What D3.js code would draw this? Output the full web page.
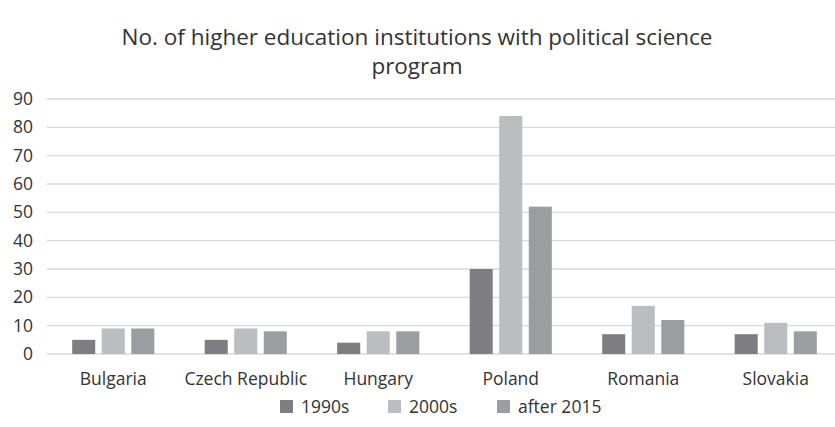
<!DOCTYPE html>
<html><head><meta charset="utf-8">
<script src="https://cdn.jsdelivr.net/npm/d3@7"></script>
<style>body{margin:0;background:#fff;} svg{display:block;font-family:"Open Sans",sans-serif;}</style>
</head><body>
<svg id="c" width="835" height="427"></svg>
<script>
const categories = ["Bulgaria","Czech Republic","Hungary","Poland","Romania","Slovakia"];
const seriesNames = ["1990s","2000s","after 2015"];
const s1990s = [5,5,4,30,7,7];
const s2000s = [9,9,8,84,17,11];
const sAfter2015 = [9,8,8,52,12,8];
const yTicks = [0,10,20,30,40,50,60,70,80,90];
const colors = ["#7e7e82","#bcbdc1","#9c9da1"];
const seriesValues = [s1990s, s2000s, sAfter2015];

const svg = d3.select("#c");
const m = {left:47, right:842, top:99, bottom:354};
const x = d3.scaleBand().domain(categories).range([m.left, m.right]);
const y = d3.scaleLinear().domain([0,90]).range([m.bottom, m.top]);
const groupW = x.bandwidth()*0.62;
const off = (x.bandwidth()-groupW)/2;
const x1 = d3.scaleBand().domain(seriesNames).range([off, off+groupW]).paddingInner(0.22).paddingOuter(0);

// gridlines
svg.append("g").selectAll("line").data(yTicks).join("line")
  .attr("x1", m.left).attr("x2", 835)
  .attr("y1", d=>y(d)).attr("y2", d=>y(d))
  .attr("stroke","#d9d9d9").attr("stroke-width",1.3);

// y labels
svg.append("g").selectAll("text").data(yTicks).join("text")
  .attr("x", 33).attr("y", d=>y(d)).attr("dy","0.35em")
  .attr("text-anchor","end").attr("font-size",17.5).attr("fill","#333")
  .text(d=>d);

// bars
categories.forEach((c,i)=>{
  seriesNames.forEach((s,j)=>{
    const v = seriesValues[j][i];
    svg.append("rect")
      .attr("x", x(c)+x1(s)).attr("width", x1.bandwidth())
      .attr("y", y(v)).attr("height", y(0)-y(v))
      .attr("fill", colors[j]);
  });
});

// x labels
svg.append("g").selectAll("text").data(categories).join("text")
  .attr("x", d=>x(d)+x.bandwidth()/2).attr("y", 385)
  .attr("text-anchor","middle").attr("font-size",17.5).attr("fill","#333")
  .text(d=>d);

// title
const title = svg.append("text").attr("text-anchor","middle").attr("font-size",22.5).attr("fill","#333");
title.append("tspan").attr("x",417).attr("y",45).text("No. of higher education institutions with political science");
title.append("tspan").attr("x",417).attr("y",74).text("program");

// legend
const legX = [280, 388, 497];
const lg = svg.append("g").selectAll("g").data(seriesNames).join("g")
  .attr("transform",(d,i)=>`translate(${legX[i]},0)`);
lg.append("rect").attr("x",0).attr("y",400).attr("width",13).attr("height",13).attr("fill",(d,i)=>colors[i]);
lg.append("text").attr("x",21).attr("y",413).attr("font-size",17.5).attr("fill","#333").text(d=>d);
</script>
</body></html>
